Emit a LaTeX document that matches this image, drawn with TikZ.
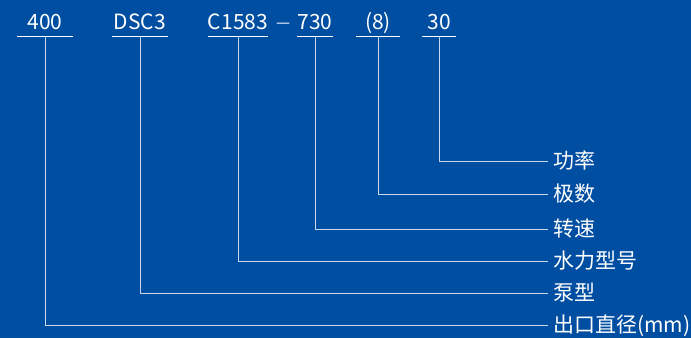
\documentclass[tikz,border=0pt]{standalone}
\usepackage{fontspec}
\setmainfont{Noto Sans CJK SC}
\newfontfamily\dashfont{DejaVu Sans}
\usetikzlibrary{positioning}
\definecolor{bgblue}{RGB}{0,78,162}
\definecolor{linec}{RGB}{200,214,238}

\begin{document}
\begin{tikzpicture}[
  x=1pt, y=-1pt,
  font=\fontsize{21}{21}\selectfont,
  code/.style={anchor=south, inner xsep=0pt, inner ysep=0pt, text=white,
               text height=15pt, text depth=6pt},
  lbl/.style={anchor=west, inner xsep=5pt, inner ysep=0pt, text=white,
              text height=17pt, text depth=3pt},
  ln/.style={draw=linec, line width=1pt}
]
\fill[bgblue] (0,0) rectangle (691,338);
\useasboundingbox (0,0) rectangle (691,338);

% model code
\node[code, minimum width=56pt] (cbore) at (45,36) {400\hspace{10pt}};
\node[code, minimum width=56pt] (ctype) at (140,36) {DSC3};
\node[code, minimum width=56pt] (chyd) at (238,36) {C1583};
\node[anchor=base, inner sep=0pt, text=white, font=\dashfont\fontsize{14}{14}\selectfont] (cdash) at (283,27) {—};
\node[code, minimum width=35pt] (cspeed) at (315,36) {730};
\node[code, minimum width=44pt] (cpole) at (378,36) {(8)};
\node[code, minimum width=34pt] (cpow) at (439,36) {30\hspace{8pt}};
\foreach \c in {cbore, ctype, chyd, cspeed, cpole, cpow}
  \draw[ln, draw=white] (\c.south west) -- (\c.south east);

% meanings
\node[lbl] (lpow) at (548,161) {功率};
\node[lbl] (lpole) at (548,194) {极数};
\node[lbl] (lspeed) at (548,229) {转速};
\node[lbl] (lhyd) at (548,261) {水力型号};
\node[lbl] (ltype) at (548,293) {泵型};
\node[lbl] (lbore) at (548,325) {出口直径(mm)};

\foreach \a/\b in {cpow/lpow, cpole/lpole, cspeed/lspeed, chyd/lhyd, ctype/ltype, cbore/lbore}
  \draw[ln] (\a.south) |- (\b.west);
\end{tikzpicture}
\end{document}
